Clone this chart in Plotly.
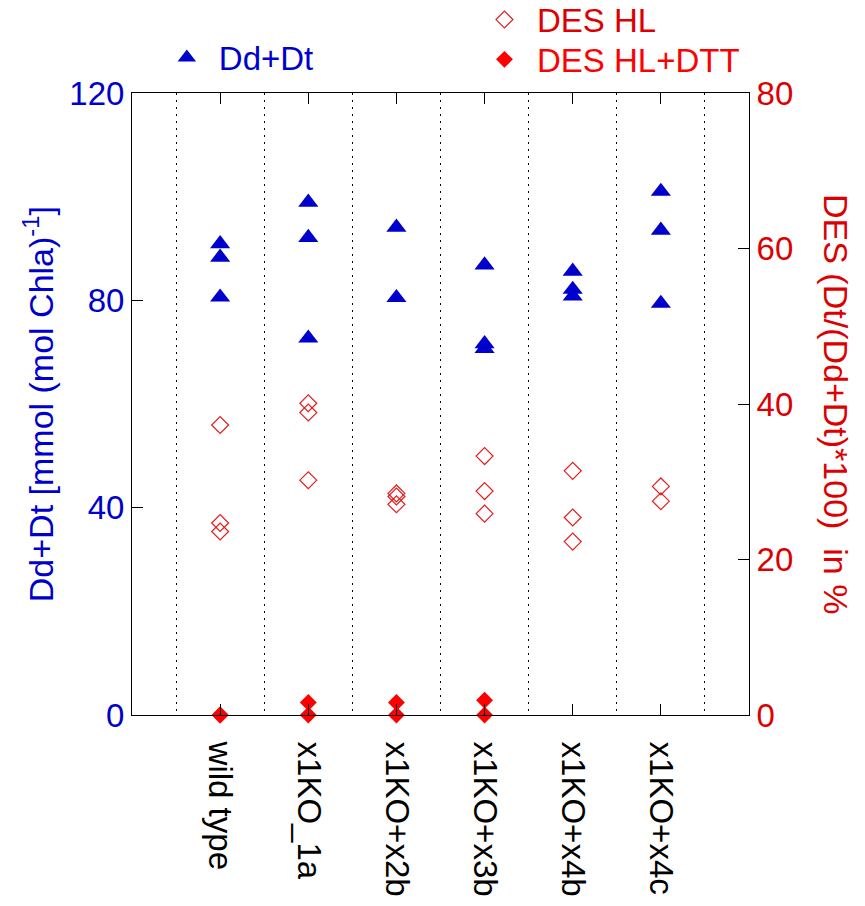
import plotly.graph_objects as go

categories = ["wild type", "x1KO_1a", "x1KO+x2b", "x1KO+x3b", "x1KO+x4b", "x1KO+x4c"]

# Dd+Dt [mmol (mol Chla)^-1]  (left axis)
dd_dt = [
    [90.9, 88.3, 80.6],
    [98.9, 92.1, 72.7],
    [94.1, 80.5],
    [86.8, 71.6, 70.7],
    [85.6, 82.1, 80.8],
    [101.0, 93.5, 79.4],
]
# DES HL in %  (right axis)
des_hl = [
    [37.3, 24.7, 23.6],
    [40.1, 38.9, 30.2],
    [28.5, 28.1, 27.1],
    [33.3, 28.8, 25.9],
    [31.4, 25.4, 22.3],
    [29.4, 27.5],
]
# DES HL+DTT in %  (right axis)
des_dtt = [
    [0.0, 0.0],
    [1.6, 0.0],
    [1.6, 0.0],
    [1.9, 0.0],
    [],
    [],
]

BLUE = "#0000cc"
RED_D = "#dd0000"
RED = "#ff0000"
FONT = "Liberation Sans, Arial, sans-serif"
FS = 33


def flatten(groups):
    xs, ys = [], []
    for i, g in enumerate(groups):
        for v in g:
            xs.append(i + 1)
            ys.append(v)
    return xs, ys


fig = go.Figure()

x1, y1 = flatten(dd_dt)
fig.add_trace(go.Scatter(
    x=x1, y=y1, mode="markers", name=f"<span style='color:{BLUE}'>Dd+Dt</span>",
    marker=dict(symbol="triangle-up", size=17.5, color=BLUE),
    legend="legend", cliponaxis=False, yaxis="y",
))

x2, y2 = flatten(des_hl)
fig.add_trace(go.Scatter(
    x=x2, y=y2, mode="markers", name=f"<span style='color:{RED_D}'>DES HL</span>",
    marker=dict(symbol="diamond-open", size=13, color="#e51c1c", line=dict(width=1.2)),
    legend="legend2", cliponaxis=False, yaxis="y2",
))

x3, y3 = flatten(des_dtt)
fig.add_trace(go.Scatter(
    x=x3, y=y3, mode="markers", name=f"<span style='color:{RED}'>DES HL+DTT</span>",
    marker=dict(symbol="diamond", size=13, color=RED),
    legend="legend3", cliponaxis=False, yaxis="y2",
))

n = len(categories)
leg_common = dict(xanchor="left", yanchor="middle", font=dict(family=FONT, size=FS),
                  bgcolor="rgba(0,0,0,0)")
fig.update_layout(
    width=865, height=906,
    margin=dict(l=132, r=116, t=92.5, b=191, autoexpand=False),
    paper_bgcolor="white", plot_bgcolor="white",
    font=dict(family=FONT, size=FS, color="black"),
    showlegend=True,
    xaxis=dict(
        range=[0, n + 1],
        tickmode="array", tickvals=list(range(1, n + 1)), ticktext=categories,
        tickangle=90, ticks="inside", ticklen=11, tickcolor="black",
        ticklabelstandoff=19,
        showline=True, linecolor="black", linewidth=1, mirror="ticks",
        showgrid=False, zeroline=False,
        tickfont=dict(family=FONT, size=FS, color="black"),
        minor=dict(tick0=0.5, dtick=1, showgrid=True, gridcolor="black",
                   gridwidth=1, griddash="2px,5px", ticks=""),
    ),
    yaxis=dict(
        range=[0, 120], dtick=40, ticks="inside", ticklen=11, tickcolor="black",
        showline=True, linecolor="black", linewidth=1,
        showgrid=False, zeroline=False,
        tickfont=dict(family=FONT, size=FS, color=BLUE),
    ),
    yaxis2=dict(
        range=[0, 80], dtick=20, overlaying="y", side="right",
        ticks="inside", ticklen=11, tickcolor="black",
        showline=True, linecolor="black", linewidth=1,
        showgrid=False, zeroline=False,
        tickfont=dict(family=FONT, size=FS, color=RED_D),
    ),
    legend=dict(x=0.037, y=1.057, itemwidth=54, **leg_common),
    legend2=dict(x=0.551, y=1.118, itemwidth=55, **leg_common),
    legend3=dict(x=0.551, y=1.054, itemwidth=55, **leg_common),
    annotations=[
        dict(text="Dd+Dt [mmol (mol Chla)<sup>-1</sup>]", textangle=-90,
             xref="paper", yref="paper", x=-0.152, y=0.5,
             xanchor="center", yanchor="middle", showarrow=False,
             font=dict(family=FONT, size=34, color=BLUE)),
        dict(text="DES (Dt/(Dd+Dt)*100)  in %", textangle=90,
             xref="paper", yref="paper", x=1.141, y=0.5,
             xanchor="center", yanchor="middle", showarrow=False,
             font=dict(family=FONT, size=34, color=RED_D)),
    ],
)

fig.write_html("out.html")
